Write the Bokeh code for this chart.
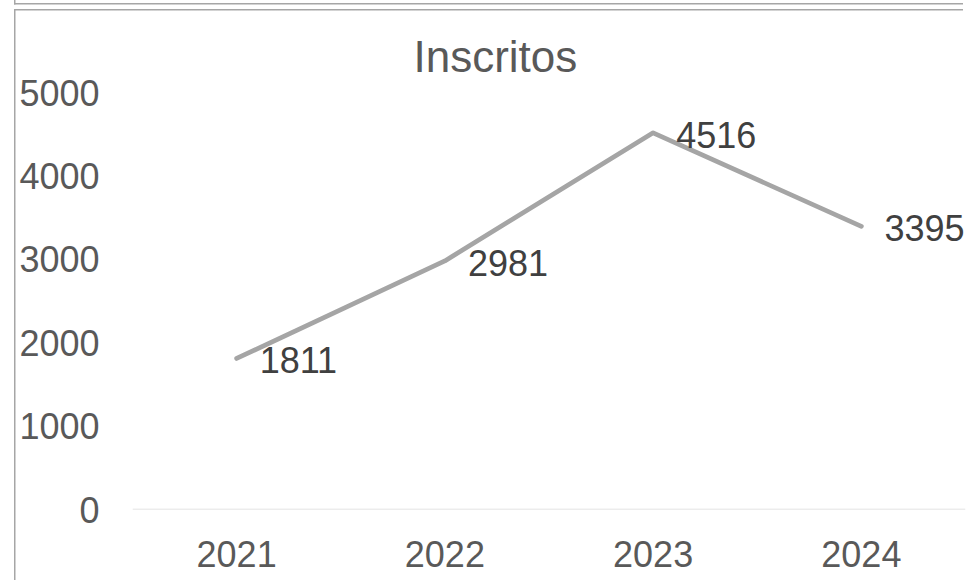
from bokeh.plotting import figure
from bokeh.models import (Range1d, FactorRange, ColumnDataSource, Span,
                          Title, FixedTicker)
from bokeh.embed import file_html
from bokeh.resources import INLINE
from bokeh.core.properties import value

# ---- data ----
years = ["2021", "2022", "2023", "2024"]
inscritos = [1811, 2981, 4516, 3395]
y_ticks = [0, 1000, 2000, 3000, 4000, 5000]
title_text = "Inscritos"

FONT = "Liberation Sans"
TICK_COLOR = "#595959"
LABEL_COLOR = "#404040"
LINE_COLOR = "#a5a5a5"
BORDER = "#a6a6a6"

src = ColumnDataSource(dict(year=years, val=inscritos,
                            label=[str(v) for v in inscritos]))

p = figure(width=973, height=580,
           x_range=FactorRange(*years, range_padding=0),
           y_range=Range1d(0, 5000),
           output_backend="svg", toolbar_location=None,
           min_border_left=132, min_border_right=8,
           min_border_top=92, min_border_bottom=71)

p.background_fill_color = None
p.border_fill_color = None
p.outline_line_color = None

# chart box edges drawn as CSS backgrounds behind the (transparent) canvas
g = f"linear-gradient({BORDER},{BORDER})"
p.styles = {
    "background": (
        f"{g} 14px 9px / 1.5px 571px no-repeat, "
        f"{g} 14px 9px / 949px 1.5px no-repeat, "
        f"{g} 14px 3px / 949px 1.5px no-repeat, "
        f"{g} 14px 0px / 1.5px 4.5px no-repeat, white"
    )
}

# title
p.title = Title(text=title_text, align="left", offset=281, standoff=20,
                vertical_align="top",
                text_font=FONT, text_font_size="44px",
                text_font_style="normal", text_color=TICK_COLOR)

# axes
p.yaxis.ticker = FixedTicker(ticks=y_ticks)
p.yaxis.axis_line_color = None
p.yaxis.major_tick_line_color = None
p.yaxis.minor_tick_line_color = None
p.yaxis.major_label_standoff = 27
p.yaxis.major_label_text_font = FONT
p.yaxis.major_label_text_font_size = "36px"
p.yaxis.major_label_text_color = TICK_COLOR

p.xaxis.axis_line_color = None
p.xaxis.major_tick_line_color = None
p.xaxis.minor_tick_line_color = None
p.xaxis.major_label_standoff = 25
p.xaxis.major_label_text_font = FONT
p.xaxis.major_label_text_font_size = "36px"
p.xaxis.major_label_text_color = TICK_COLOR

# grid: only the zero baseline
p.xgrid.visible = False
p.ygrid.visible = False
p.add_layout(Span(location=y_ticks[0], dimension="width",
                  line_color="#d9d9d9", line_width=1.7))

# line
p.line(x="year", y="val", source=src, line_color=LINE_COLOR, line_width=4.7,
       line_cap="round", line_join="round")

# data labels
p.text(x="year", y="val", text="label", source=src,
       x_offset=23, y_offset=2,
       text_align="left", text_baseline="middle",
       text_font=value(FONT), text_font_size="36px", text_color=LABEL_COLOR)

open("out.html", "w").write(file_html(p, INLINE))
